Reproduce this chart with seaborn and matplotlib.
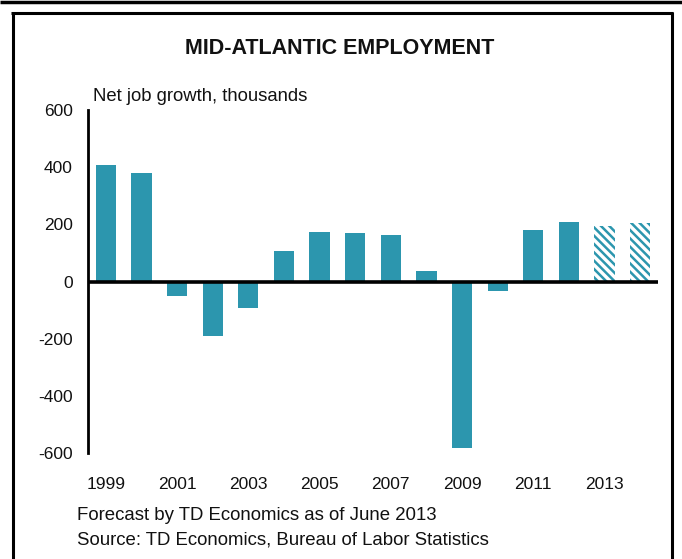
import matplotlib
matplotlib.use("Agg")
import matplotlib.pyplot as plt
from matplotlib.lines import Line2D
import seaborn as sns
import pandas as pd

# Net job growth in the Mid-Atlantic region, thousands (2013-2014 are forecasts)
years = [str(y) for y in range(1999, 2015)]
job_growth = [408, 378, -52, -189, -91, 105, 172, 168, 164, 35, -582, -32, 181, 209, 193, 203]
forecast_years = ["2013", "2014"]
y_ticks = [-600, -400, -200, 0, 200, 400, 600]
x_tick_labels = ["1999", "2001", "2003", "2005", "2007", "2009", "2011", "2013"]

teal = "#2c96ae"
ink = "#111111"
font = "Liberation Sans"

sns.set_theme(style="white")
plt.rcParams["font.family"] = [font, "DejaVu Sans"]
plt.rcParams["hatch.linewidth"] = 1.8
plt.rcParams["hatch.color"] = teal

df = pd.DataFrame({"year": years, "growth": job_growth})

fig = plt.figure(figsize=(6.82, 5.59), dpi=100)
ax = fig.add_axes([88 / 682, 1 - 453 / 559, (658 - 88) / 682, (453 - 110) / 559])

sns.barplot(data=df, x="year", y="growth", color=teal, width=0.57,
            saturation=1, ax=ax, order=years)

for patch, yr in zip(ax.patches, years):
    patch.set_linewidth(0)
    if yr in forecast_years:
        patch.set_facecolor("white")
        patch.set_edgecolor(teal)
        patch.set_hatch("\\\\\\\\")

ax.set_xlim(-0.5, len(years) - 0.5)
ax.set_ylim(-600, 600)
ax.set_yticks(y_ticks)
ax.set_yticklabels([str(v) for v in y_ticks], fontsize=12.5, color=ink)
ax.set_xticks([years.index(t) for t in x_tick_labels])
ax.set_xticklabels(x_tick_labels, fontsize=12.5, color=ink)
ax.tick_params(axis="x", length=0, pad=17)
ax.tick_params(axis="y", length=0, pad=11)
ax.set_xlabel("")
ax.set_ylabel("")

for side in ["top", "right", "bottom"]:
    ax.spines[side].set_visible(False)
ax.spines["left"].set_color("black")
ax.spines["left"].set_linewidth(2)
ax.axhline(0, color="black", linewidth=2.6, zorder=5)

fig.text(93 / 682, 1 - 101 / 559, "Net job growth, thousands", fontsize=13.3,
         ha="left", va="baseline", color=ink)

fig.text(340 / 682, 1 - 48 / 559, "MID-ATLANTIC EMPLOYMENT", fontsize=15.5,
         fontweight="bold", ha="center", va="center", color=ink)
fig.text(77 / 682, 1 - 516 / 559, "Forecast by TD Economics as of June 2013",
         fontsize=13.45, ha="left", va="center", color=ink)
fig.text(77 / 682, 1 - 540 / 559, "Source: TD Economics, Bureau of Labor Statistics",
         fontsize=13.45, ha="left", va="center", color=ink)

# Panel frame lines
def fig_line(x0, y0, x1, y1, lw):
    fig.add_artist(Line2D([x0 / 682, x1 / 682], [1 - y0 / 559, 1 - y1 / 559],
                          color="black", linewidth=lw, solid_capstyle="butt"))

fig_line(0, 1.5, 682, 1.5, 2.5)
fig_line(11, 13, 673, 13, 2.2)
fig_line(12.5, 12, 12.5, 559, 2.2)
fig_line(671.5, 12, 671.5, 559, 2.2)

fig.savefig("out.png", dpi=100)
